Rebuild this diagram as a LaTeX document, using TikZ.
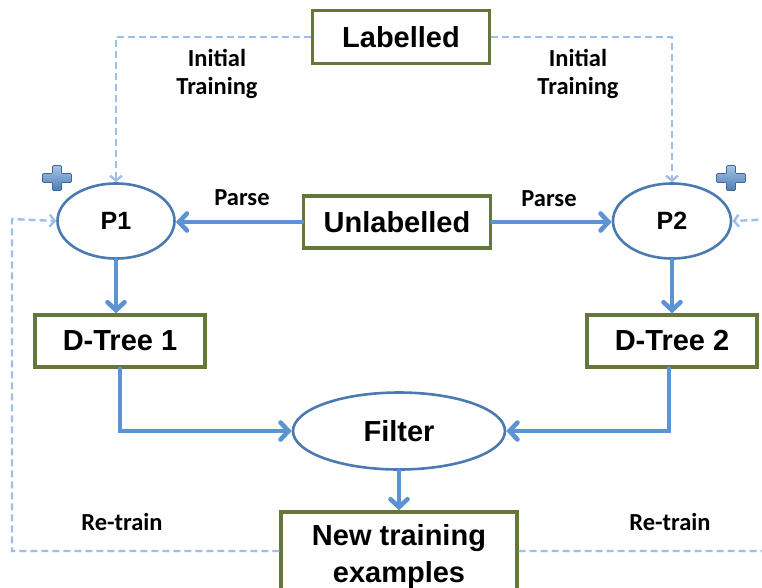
\documentclass[tikz,border=0pt]{standalone}
\usepackage{fontspec}
\setmainfont{Liberation Sans}
\newfontfamily\lblfont{Carlito}
\usetikzlibrary{shapes.geometric,arrows.meta,calc}
\definecolor{boxgreen}{HTML}{64763A}
\definecolor{ellblue}{HTML}{4A7AB0}
\definecolor{arrblue}{HTML}{5B93D3}
\definecolor{dashblue}{HTML}{9EBFE8}
\tikzset{
  box/.style={draw=boxgreen, line width=3.4pt, rectangle, inner sep=0pt, font=\fontsize{29}{37}\selectfont\bfseries},
  ell/.style={draw=ellblue, line width=2.6pt, ellipse, inner sep=0pt, font=\fontsize{25}{30}\selectfont\bfseries},
  flow/.style={draw=arrblue, line width=4.6pt, line cap=round, -{Straight Barb[length=8pt,width=17pt,line cap=round]}},
  dsh/.style={draw=dashblue, line width=2.4pt, dash pattern=on 7pt off 4pt, -{Straight Barb[length=5pt,width=12pt]}},
  lbl/.style={font=\lblfont\fontsize{24.5}{28}\selectfont\bfseries, align=center, inner sep=0pt},
  plusicon/.pic={
    \shade[top color=arrblue!55, bottom color=arrblue!85!black, draw=arrblue!70!black, line width=0.6pt, rounded corners=1pt]
      (-14.5,-4.5) -- (-4.5,-4.5) -- (-4.5,-12.5) -- (4.5,-12.5) -- (4.5,-4.5) -- (14.5,-4.5) -- (14.5,4.5) -- (4.5,4.5) -- (4.5,12.5) -- (-4.5,12.5) -- (-4.5,4.5) -- (-14.5,4.5) -- cycle;
  }
}
\begin{document}
\begin{tikzpicture}[x=1pt,y=-1pt]
\useasboundingbox (0,0) rectangle (762,587);
% nodes
\node[box, minimum width=177pt, minimum height=53pt] (L) at (401,37) {Labelled};
\node[box, minimum width=187pt, minimum height=52pt] (U) at (397,222) {Unlabelled};
\node[ell, minimum width=117pt, minimum height=75pt] (P1) at (116,221) {P1};
\node[ell, minimum width=118pt, minimum height=75pt] (P2) at (672,221) {P2};
\node[box, minimum width=170pt, minimum height=52pt] (D1) at (120,341) {D-Tree 1};
\node[box, minimum width=170pt, minimum height=52pt] (D2) at (672,341) {D-Tree 2};
\node[ell, minimum width=212pt, minimum height=77pt, font=\fontsize{29}{34}\selectfont\bfseries] (F) at (399,431) {Filter};
\node[box, minimum width=236pt, minimum height=88pt, align=center] (N) at (399,556) {New training\\examples};
% plus icons
\pic at (57,178) {plusicon};
\pic at (731,178) {plusicon};
% coordinates for dashed loops
\coordinate (rl) at (12,219);
\coordinate (rr) at (775,219);
\coordinate (nl) at ($(N.west)+(0,-5)$);
\coordinate (nr) at ($(N.east)+(0,-5)$);
% solid arrows
\draw[flow] (U.west) -- (P1.east |- U.west);
\draw[flow] (U.east) -- (P2.west |- U.east);
\draw[flow] (P1.south) -- (P1.south |- D1.north);
\draw[flow] (P2.south) -- (P2.south |- D2.north);
\draw[flow] (D1.south) |- (F.west);
\draw[flow] ($(D2.south)+(-3,0)$) |- (F.east);
\draw[flow] (F.south) -- (N.north);
% dashed arrows
\draw[dsh] (L.west) -| (P1.north);
\draw[dsh] (L.east) -| (P2.north);
\draw[dsh] (nl) -| (rl) -- (P1.west);
\draw[dsh] (nr) -| (rr) -- (P2.east);
% labels
\node[lbl] (pa1) at (242,198) {Parse};
\node[lbl] (pa2) at (549,199) {Parse};
\node[lbl] (it1) at (217,74) {Initial\\Training};
\node[lbl] (it2) at (578,74) {Initial\\Training};
\node[lbl] (rt1) at (122,522) {Re-train};
\node[lbl] (rt2) at (670,522) {Re-train};
\end{tikzpicture}
\end{document}
